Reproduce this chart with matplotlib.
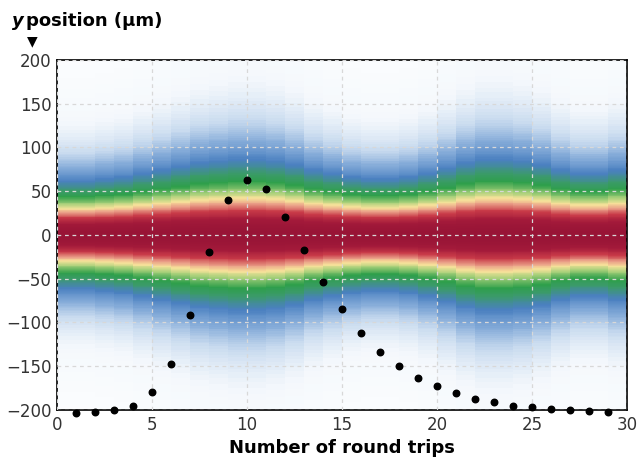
import numpy as np
import matplotlib
matplotlib.use("Agg")
import matplotlib.pyplot as plt
from matplotlib.colors import LinearSegmentedColormap

rounds = list(range(1, 30))
centroid = [-203, -202, -200, -195, -180, -148, -92, -20, 40, 63, 52, 20, -17, -54,
            -85, -112, -134, -150, -163, -173, -181, -187, -191, -195, -197, -199, -200, -201, -202]
# beam half-width (yellow edge, µm) per round-trip column 0..29
halfwidth = [30, 30, 31, 32, 34, 36, 38, 40, 41, 42, 42, 41, 39, 36, 34, 32, 31, 31, 32, 34,
             37, 40, 42, 42, 41, 39, 36, 34, 34, 36]

cmap = LinearSegmentedColormap.from_list("beam", [
    (0.0, "#ffffff"), (0.05, "#f4f8fc"), (0.09, "#c9dbef"), (0.13, "#86acd9"),
    (0.19, "#4a80c0"), (0.26, "#3b9a6a"), (0.32, "#2e9f4a"), (0.42, "#a8d07a"),
    (0.5, "#f7e29a"), (0.58, "#eaa088"), (0.7, "#c83a48"), (0.85, "#a31a3a"),
    (1.0, "#981436")])

fig = plt.figure(figsize=(6.4, 4.68), dpi=100)
ax = fig.add_axes([0.089, 0.124, 0.891, 0.748])
yedges = np.linspace(-200, 200, 401)
yc = 0.5 * (yedges[:-1] + yedges[1:])
Z = np.array([1.0 / (1.0 + (yc / w) ** 2) for w in halfwidth]).T
ax.pcolormesh(np.arange(31), yedges, Z, cmap=cmap, vmin=0, vmax=1, shading="flat")
ax.set_xlim(0, 30)
ax.set_ylim(-200, 200)
ax.grid(True, color="#d8d8d8", linestyle=(0, (3, 3)), linewidth=0.9)
ax.set_axisbelow(False)
ax.scatter(rounds, centroid, s=22, color="black", zorder=5, clip_on=False)
ax.set_xticks(range(0, 31, 5))
ax.set_yticks(range(-200, 201, 50))
ax.tick_params(labelsize=12, colors="#333333", length=0, pad=4)
for s in ax.spines.values():
    s.set_linewidth(1.2)
ax.set_xlabel("Number of round trips", fontsize=13, fontweight="bold", labelpad=4)
fig.text(0.018, 0.955, "y", fontsize=13, fontweight="bold", style="italic", va="center")
fig.text(0.04, 0.955, "position (µm)", fontsize=13, fontweight="bold", va="center")
fig.text(0.05, 0.912, "▼", fontsize=10, ha="center", va="center")
fig.savefig("out.png", dpi=100)
